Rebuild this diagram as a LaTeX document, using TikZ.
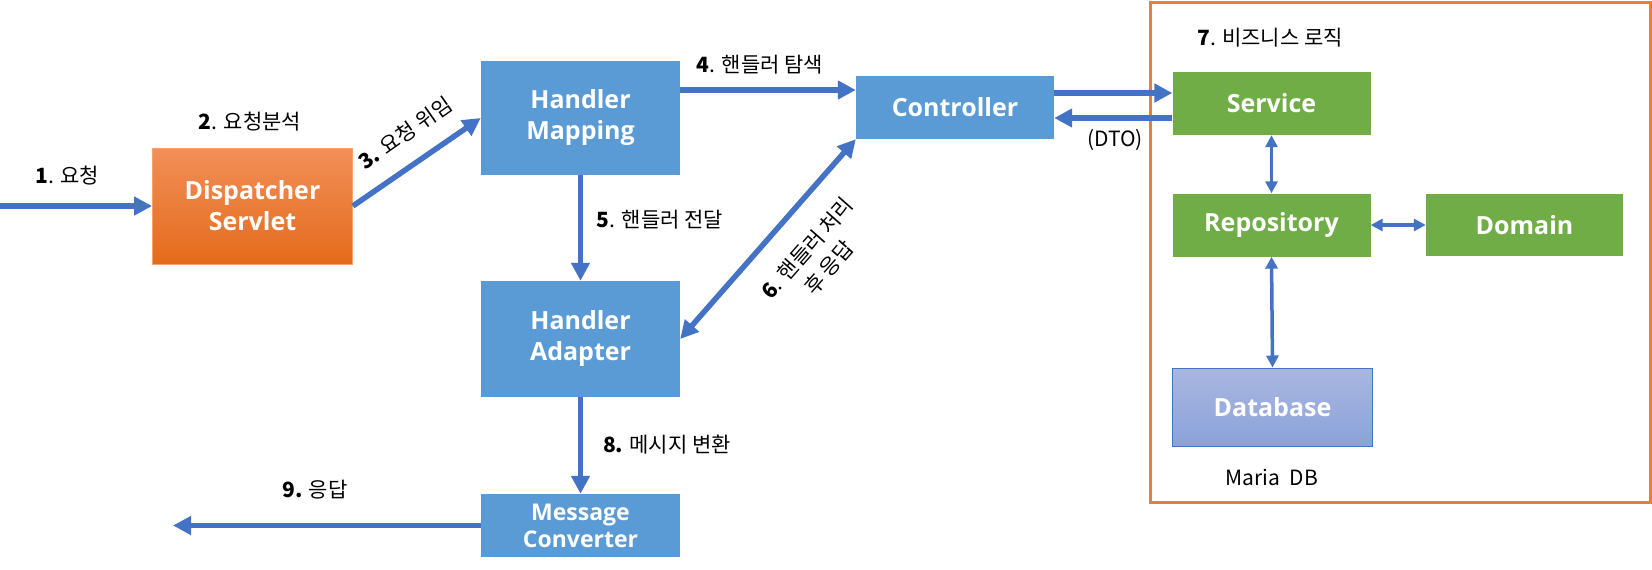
\documentclass[tikz,border=0pt]{standalone}
\usepackage{fontspec}
\setmainfont{Noto Sans CJK KR}
\newfontfamily\boxfont{Open Sans}
\usetikzlibrary{arrows.meta}
\definecolor{boxblue}{HTML}{5B9BD5}
\definecolor{arrblue}{HTML}{4472C4}
\definecolor{grn}{HTML}{70AD47}
\definecolor{org}{HTML}{ED7D31}
\definecolor{orgtop}{HTML}{F28F58}
\definecolor{orgbot}{HTML}{E46B1B}
\definecolor{orgedge}{HTML}{F4A36B}
\definecolor{dbtop}{HTML}{A9B7E1}
\definecolor{dbbot}{HTML}{8BA2D9}
\tikzset{
  boxbase/.style={inner sep=0pt, align=center, text=white,
    font=\boxfont\bfseries\fontsize{25}{31}\selectfont},
  bluebox/.style={boxbase, fill=boxblue},
  greenbox/.style={boxbase, fill=grn},
  flow/.style={draw=arrblue, line width=5.5pt, -{Triangle[length=18pt,width=18pt]}},
  flowboth/.style={draw=arrblue, line width=5.5pt, {Triangle[length=18pt,width=18pt]}-{Triangle[length=18pt,width=18pt]}},
  thinboth/.style={draw=arrblue, line width=3.5pt, {Triangle[length=12pt,width=12pt]}-{Triangle[length=12pt,width=12pt]}},
  lbl/.style={inner sep=0pt, align=center, font=\fontsize{21}{29}\selectfont}
}
\begin{document}
\begin{tikzpicture}[x=1pt,y=-1pt]
\useasboundingbox (0,0) rectangle (1652,570);
\fill[white] (0,0) rectangle (1652,570);

% business logic frame
\draw[org, line width=3pt] (1150,2) rectangle (1650,502);

% boxes
\node[boxbase, minimum width=200pt, minimum height=116pt, top color=orgtop, bottom color=orgbot, draw=orgedge, line width=0.8pt] (ds) at (252.5,206) {Dispatcher\\Servlet};
\node[bluebox, minimum width=199pt, minimum height=114pt] (hm) at (580.5,118) {Handler\\Mapping};
\node[bluebox, minimum width=198pt, minimum height=63pt] (ctrl) at (955,107.5) {Controller};
\node[bluebox, minimum width=199pt, minimum height=116pt] (ha) at (580.5,339) {Handler\\Adapter};
\node[bluebox, minimum width=199pt, minimum height=63pt, font=\boxfont\bfseries\fontsize{23}{27}\selectfont] (mc) at (580.5,525.5) {Message\\Converter};
\node[greenbox, minimum width=198pt, minimum height=63pt] (svc) at (1271.5,103.5) {Service};
\node[greenbox, minimum width=198pt, minimum height=63pt] (repo) at (1271.5,225) {Repository};
\node[greenbox, minimum width=197pt, minimum height=62pt] (dom) at (1524.5,225) {Domain};
\node[boxbase, minimum width=200pt, minimum height=78pt, top color=dbtop, bottom color=dbbot, draw=arrblue, line width=1pt] (db) at (1272.5,407) {Database};

% free ends
\coordinate (in) at (0,206);
\coordinate (out) at (173,525.5);

% connectors
\draw[flow] (in) -- (ds.west);
\draw[flow] (ds.east) -- (hm.west);
\draw[flow] ([yshift=28pt]hm.east) -- ([yshift=28pt]hm.east -| ctrl.west);
\draw[flow] (hm.south) -- (ha.north);
\draw[flowboth] (ha.east) -- (ctrl.south west);
\draw[flow] (ha.south) -- (mc.north);
\draw[flow] (mc.west) -- (out);
\draw[flow] ([yshift=14.5pt]ctrl.east) -- ([yshift=14.5pt]ctrl.east -| svc.west);
\draw[flow] ([yshift=-14.5pt]svc.west) -- ([yshift=-14.5pt]svc.west -| ctrl.east);
\draw[thinboth] (svc.south) -- (repo.north);
\draw[thinboth] (repo.east) -- (dom.west);
\draw[thinboth] (repo.south) -- (db.north);

% labels
\node[lbl] (l1) at (67,176) {\textbf{1}. 요청};
\node[lbl] (l2) at (250,122) {\textbf{2}. 요청분석};
\node[lbl, rotate=35] (l3) at (405,133) {\textbf{3.} 요청\ 위임};
\node[lbl] (l4) at (760,65) {\textbf{4}. 핸들러\ 탐색};
\node[lbl] (l5) at (660,220) {\textbf{5}. 핸들러\ 전달};
\node[lbl, rotate=48.6] (l6) at (818,258) {\textbf{6}. 핸들러\ 처리\\후 응답};
\node[lbl] (l7) at (1270,38) {\textbf{7}. 비즈니스\ 로직};
\node[lbl] (l8) at (667,445) {\textbf{8.} 메시지\ 변환};
\node[lbl] (l9) at (315,490) {\textbf{9.} 응답};
\node[lbl] (dto) at (1115,140) {(DTO)};
\node[lbl] (maria) at (1272,477) {Maria\ \ DB};
\end{tikzpicture}
\end{document}
